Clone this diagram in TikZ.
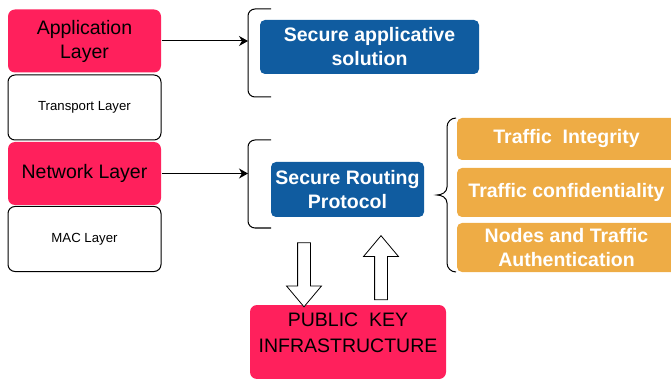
\documentclass[tikz,border=0pt]{standalone}
\usepackage{fontspec}
\setmainfont{Liberation Sans}
\usetikzlibrary{arrows.meta,shapes.arrows}
\definecolor{layerpink}{RGB}{255,32,92}
\definecolor{secblue}{RGB}{16,92,160}
\definecolor{secorange}{RGB}{238,172,69}

\begin{document}
\begin{tikzpicture}[x=1pt,y=-1pt,line width=1pt,
		pinkbox/.style={fill=layerpink,rounded corners=7pt,minimum width=153pt,minimum height=63pt,align=center,font=\fontsize{19.5}{24}\selectfont},
		whitebox/.style={draw=black,fill=white,rounded corners=7pt,minimum width=153pt,minimum height=65pt,font=\fontsize{13.2}{16}\selectfont},
		bluebox/.style={fill=secblue,text=white,rounded corners=5pt,align=center,font=\fontsize{19.5}{24}\selectfont\bfseries},
		orangebox/.style={fill=secorange,text=white,rounded corners=5pt,align=center,minimum width=219pt,font=\fontsize{19.5}{24}\selectfont\bfseries},
		blockarrow/.style={single arrow,draw=black,fill=white,line width=0.8pt,inner sep=6pt,minimum height=64pt,minimum width=34pt,single arrow head extend=11pt,single arrow tip angle=80},
		link/.style={-{Stealth[length=9pt,width=10pt]}}
	]
	\useasboundingbox (0,0) rectangle (671,379);
	
	\node [pinkbox] (app) at (84.5,41) {Application\\Layer};
	\node [whitebox] (transport) at (84.5,107.5) {Transport Layer};
	\node [pinkbox] (network) at (84.5,173.5) {Network Layer};
	\node [whitebox] (mac) at (84.5,239) {MAC Layer};
	
	\node [bluebox, minimum width=219pt, minimum height=54pt] (secapp) at (369.5,47) {Secure applicative\\solution};
	\node [bluebox, minimum width=153pt, minimum height=55pt] (srp) at (347.5,189.5) {Secure Routing\\Protocol};
	
	\node [orangebox, minimum height=42pt] (integrity) at (566.5,139) {Traffic\ \ Integrity};
	\node [orangebox, minimum height=49pt] (confid) at (566.5,192.5) {Traffic confidentiality};
	\node [orangebox, minimum height=49pt] (auth) at (566.5,247.5) {Nodes and Traffic\\Authentication};
	
	\node [pinkbox, minimum width=196pt, minimum height=74pt, text depth=19pt, font=\fontsize{19.5}{26}\selectfont] (pki) at (348,342) {PUBLIC\ \ KEY\\INFRASTRUCTURE};
	
	\node [blockarrow, shape border rotate=270] (pkidown) at (304,271) {};
	\node [blockarrow, shape border rotate=90] (pkiup) at (381,271.5) {};
	
	\coordinate (b1) at (248,42);
	\coordinate (b2) at (248,173);
	\draw [link] (app) -- (app -| b1);
	\draw [link] (network) -- (network -| b2);
	
	\draw [rounded corners=7pt] (271,9) -- (248,9) -- (248,97) -- (271,97);
	\draw [rounded corners=7pt] (271,140) -- (248,140) -- (248,228) -- (271,228);
	
	\draw (456,118) to[out=180,in=90] (447,127) -- (447,187) to[out=270,in=0] (437,195)
		to[out=0,in=90] (447,203) -- (447,263) to[out=270,in=180] (456,272);
\end{tikzpicture}
\end{document}
